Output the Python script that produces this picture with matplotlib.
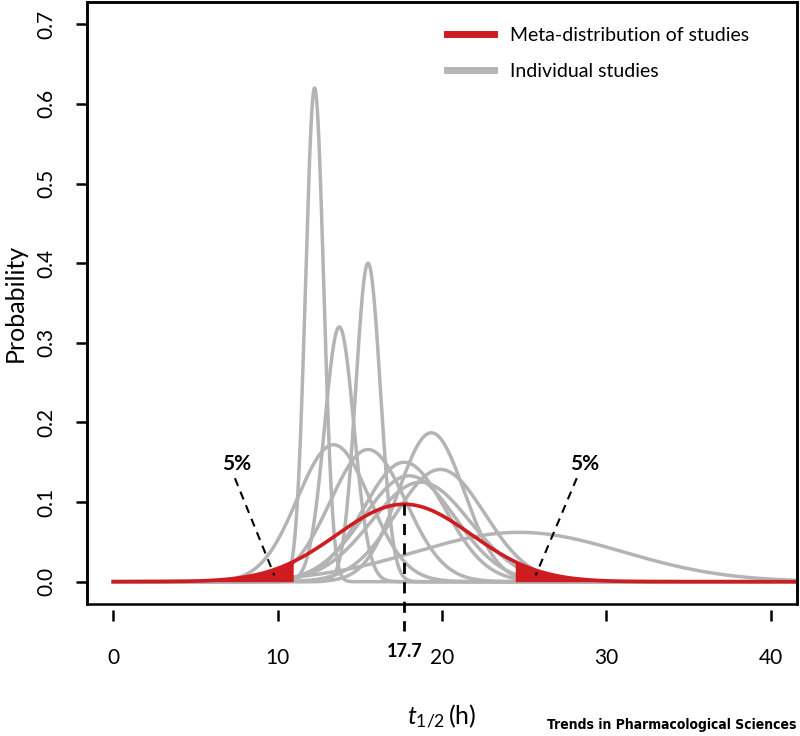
import numpy as np
import matplotlib
matplotlib.use('Agg')
import matplotlib.pyplot as plt

# dados: estudos individuais (media, desvio, altura do pico)
study_mean = [12.25, 13.75, 15.5, 13.4, 15.5, 19.35, 17.7, 19.9, 18.0, 18.7, 24.7]
study_sd = [0.55, 0.9, 0.75, 2.2, 2.3, 2.0, 2.5, 2.7, 2.8, 3.0, 6.3]
study_peak = [0.62, 0.32, 0.40, 0.172, 0.166, 0.187, 0.150, 0.141, 0.133, 0.125, 0.062]

# meta-distribuicao
meta_mean = 17.7
meta_sd = 4.1
tail_z = 1.645  # 5% em cada cauda

x_ticks = [0, 10, 20, 30, 40]
y_ticks = [0.0, 0.1, 0.2, 0.3, 0.4, 0.5, 0.6, 0.7]
y_labels = ['0.0', '0.1', '0.2', '0.3', '0.4', '0.5', '0.6', '0.7']

GRAY = '#b4b4b4'
RED = '#cf1c20'

plt.rcParams['font.family'] = ['Lato', 'DejaVu Sans']
plt.rcParams['mathtext.fontset'] = 'custom'
plt.rcParams['mathtext.it'] = 'Lato:italic'
plt.rcParams['mathtext.rm'] = 'Lato'

fig = plt.figure(figsize=(8, 7.36), dpi=100)
ax = fig.add_axes([87 / 800, 1 - 604 / 736, 710 / 800, 602 / 736])

x = np.linspace(0, 42, 2000)

for m, s, p in zip(study_mean, study_sd, study_peak):
    ax.plot(x, p * np.exp(-0.5 * ((x - m) / s) ** 2), color=GRAY, lw=2.5)

meta = np.exp(-0.5 * ((x - meta_mean) / meta_sd) ** 2) / (meta_sd * np.sqrt(2 * np.pi))
lo = meta_mean - tail_z * meta_sd
hi = meta_mean + tail_z * meta_sd
ax.fill_between(x, 0, meta, where=x <= lo, color=RED, lw=0, zorder=3)
ax.fill_between(x, 0, meta, where=x >= hi, color=RED, lw=0, zorder=3)
ax.plot(x, meta, color=RED, lw=2.6, zorder=3)

# linha do valor central
peak = 1 / (meta_sd * np.sqrt(2 * np.pi))
ax.plot([meta_mean, meta_mean], [peak, -0.062], color='black', lw=2,
        dashes=(4, 3), clip_on=False, zorder=4)
ax.text(meta_mean, -0.088, '17.7', ha='center', va='center', fontsize=13,
        fontweight='bold', clip_on=False)

# anotacoes dos 5%
ax.plot([7.4, 9.8], [0.13, 0.008], color='black', lw=1.5, dashes=(4, 3), zorder=4)
ax.text(7.5, 0.148, '5%', ha='center', va='center', fontsize=15, fontweight='bold')
ax.plot([28.2, 25.7], [0.13, 0.008], color='black', lw=1.5, dashes=(4, 3), zorder=4)
ax.text(28.7, 0.148, '5%', ha='center', va='center', fontsize=15, fontweight='bold')

ax.set_xlim(-1.6, 41.6)
ax.set_ylim(-0.028, 0.728)
ax.set_xticks(x_ticks)
ax.set_yticks(y_ticks)
ax.set_yticklabels(y_labels, rotation=90, va='center')
ax.tick_params(axis='both', direction='out', length=8, width=1.8, labelsize=15)
ax.tick_params(axis='x', pad=20)
ax.tick_params(axis='y', pad=14)

for sp in ax.spines.values():
    sp.set_linewidth(1.8)
ax.spines['bottom'].set_position(('outward', 4))
ax.spines['bottom'].set_visible(False)
box = plt.Rectangle((0, 0), 1, 1, transform=ax.transAxes, fill=False,
                    lw=1.8, ec='black', clip_on=False, zorder=5)
ax.add_patch(box)

ax.set_ylabel('Probability', fontsize=18, va='center')
ax.yaxis.set_label_coords(-0.101, 0.5)
ax.set_xlabel(r'$t_{1/2}\,$(h)', fontsize=18, va='center')
ax.xaxis.set_label_coords(0.5, -0.188)

ax.plot([], [], color=RED, lw=5, label='Meta-distribution of studies')
ax.plot([], [], color=GRAY, lw=5, label='Individual studies')
h, l = ax.get_legend_handles_labels()
ax.legend(h[-2:], l[-2:], loc='upper left', bbox_to_anchor=(0.507, 0.958),
          frameon=False, fontsize=14, handlelength=2.4, handletextpad=0.85,
          labelspacing=0.95, borderpad=0, borderaxespad=0)

fig.text(0.996, 0.006, 'Trends in Pharmacological Sciences', ha='right', va='bottom',
         fontsize=10, fontweight='bold', fontstretch='condensed',
         family=['Liberation Sans Narrow', 'DejaVu Sans'])

fig.savefig('out.png', dpi=100)
